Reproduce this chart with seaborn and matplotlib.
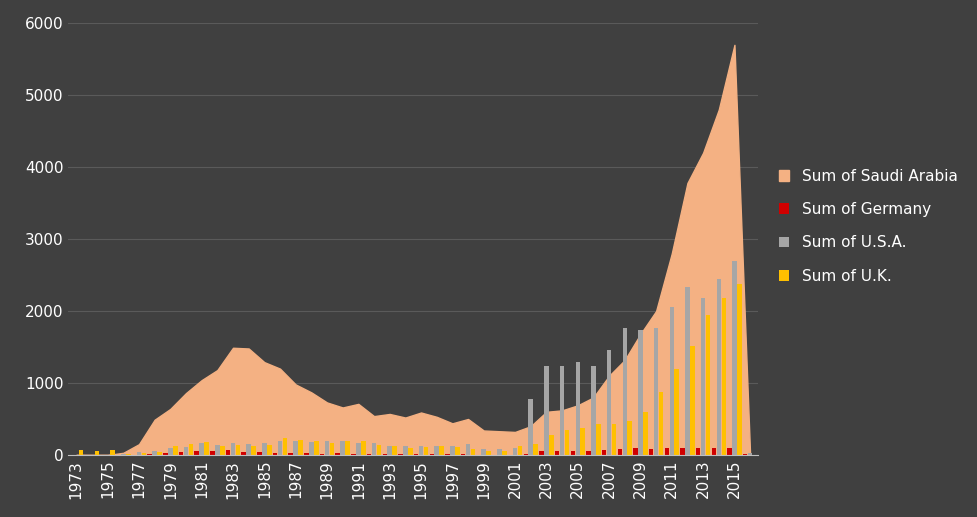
#!/usr/bin/env python
# coding: utf-8

import pandas as pd
import numpy as np
import seaborn as sns
import matplotlib.pyplot as plt

years = list(range(1973, 2017))
saudi = [0, 0, 0, 30, 150, 490, 640, 860, 1040, 1180, 1490, 1480, 1290, 1200, 980,
         870, 730, 660, 710, 540, 570, 520, 590, 530, 440, 500, 340, 330, 320, 400,
         600, 620, 690, 800, 1100, 1320, 1680, 2000, 2800, 3780, 4200, 4800, 5700, 0]
germany = [0, 0, 0, 0, 0, 10, 30, 40, 60, 50, 70, 40, 40, 30, 30,
           30, 20, 30, 20, 20, 10, 20, 10, 10, 10, 10, 0, 0, 0, 10,
           50, 60, 60, 60, 70, 80, 90, 80, 100, 100, 90, 90, 90, 20]
usa = [0, 0, 0, 10, 40, 60, 100, 110, 160, 140, 170, 150, 160, 200, 200,
       180, 200, 190, 170, 160, 130, 120, 130, 130, 130, 150, 80, 80, 100, 780,
       1240, 1230, 1290, 1240, 1460, 1760, 1740, 1760, 2060, 2330, 2180, 2450, 2700, 30]
uk = [70, 50, 70, 20, 30, 40, 130, 150, 180, 130, 140, 120, 140, 230, 210,
      200, 170, 190, 190, 140, 120, 100, 110, 120, 110, 80, 60, 60, 120, 150,
      280, 340, 380, 430, 430, 470, 600, 880, 1200, 1510, 1950, 2180, 2380, 0]

bars = pd.DataFrame({
    "year": years * 3,
    "value": germany + usa + uk,
    "series": ["Sum of Germany"] * 44 + ["Sum of U.S.A."] * 44 + ["Sum of U.K."] * 44,
})

plt.rcParams["font.family"] = "DejaVu Sans"
fig, ax1 = plt.subplots(1, 1, figsize=(9.78, 5.17), dpi=100)
fig.patch.set_facecolor("#404040")
ax1.set_facecolor("#404040")

# area for Saudi Arabia on category positions
ax1.fill_between(range(len(years)), saudi, color="#f4b183", label="Sum of Saudi Arabia", zorder=1)

sns.barplot(
    data=bars,
    x="year",
    y="value",
    hue="series",
    palette=["#d00000", "#a6a6a6", "#ffc000"],
    saturation=1,
    width=0.95,
    gap=0.1,
    ax=ax1,
    zorder=2,
)

ax1.set_ylim(0, 6000)
ax1.set_xlim(-0.5, len(years) - 0.5)
ax1.set_yticks(range(0, 6001, 1000))
ax1.grid(axis="y", color="#5a5a5a", linewidth=0.8)
ax1.set_axisbelow(True)
ax1.set_xticks(range(0, len(years), 2))
ax1.set_xticklabels([str(y) for y in years[::2]], rotation=90)
ax1.tick_params(colors="white", labelsize=11, length=0)
for s in ["top", "right", "left"]:
    ax1.spines[s].set_visible(False)
ax1.spines["bottom"].set_color("#bfbfbf")
ax1.set_xlabel("")
ax1.set_ylabel("")

leg = ax1.legend(loc="center left", bbox_to_anchor=(1.01, 0.53), frameon=False,
                 fontsize=11, labelcolor="white", handlelength=0.7, labelspacing=1.2)
plt.subplots_adjust(left=0.07, right=0.775, top=0.955, bottom=0.12)

plt.savefig("out.png", dpi=100, facecolor=fig.get_facecolor())
